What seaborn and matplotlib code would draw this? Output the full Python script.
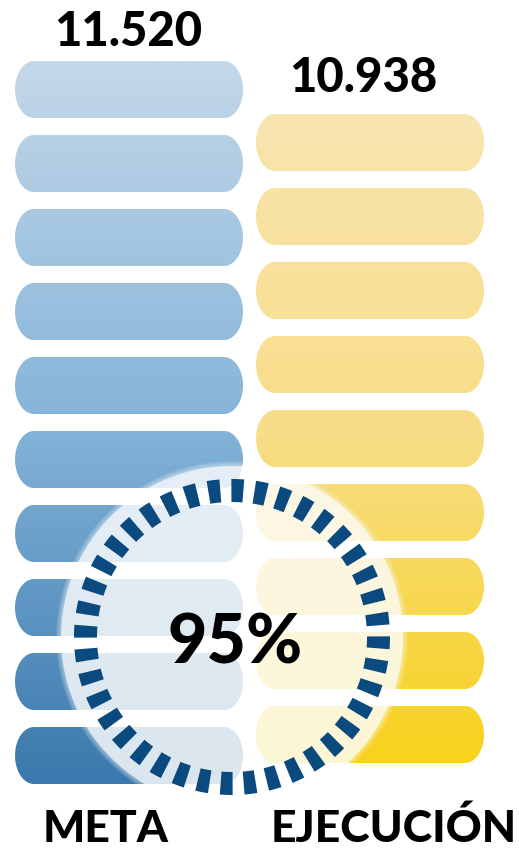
import numpy as np
import matplotlib
matplotlib.use("Agg")
import matplotlib.pyplot as plt
from matplotlib.patches import Circle, Wedge, Polygon
import seaborn as sns

# ---- data ----
categories = ["META", "EJECUCIÓN"]
values = [11520, 10938]
value_labels = ["11.520", "10.938"]
segments = [10, 9]
percent_label = "95%"
grad_colors = [["#c4d8e9", "#84b4d9", "#3a78ad"], ["#f8e5b0", "#f8dd86", "#f7d21c"]]

# ---- layout (pixels) ----
W, H = 519, 849
col_x = [15, 256]
col_top = [61, 114]
pill_w, pill_h, pitch = 228, 57, 74
round_x = 19
label_pos = [(128, 46), (363, 92)]
cat_pos = [(106, 849), (394, 849)]
cx, cy = 232, 637

sns.set_theme(style="white")
plt.rcParams["font.family"] = ["Lato", "DejaVu Sans"]

fig = plt.figure(figsize=(W / 100, H / 100), dpi=100)
ax = fig.add_axes([0, 0, 1, 1])
ax.set_xlim(0, W)
ax.set_ylim(H, 0)
ax.axis("off")


def pill_path(x0, y0, w, h, rx):
    t = np.linspace(-np.pi / 2, np.pi / 2, 40)
    ry = h / 2
    ycen = y0 + ry
    right = np.column_stack([x0 + w - rx + rx * np.cos(t), ycen + ry * np.sin(t)])
    left = np.column_stack([x0 + rx - rx * np.cos(t), ycen - ry * np.sin(t)])
    return np.vstack([right, left])


for i, cat in enumerate(categories):
    cmap = sns.blend_palette(grad_colors[i], n_colors=256, as_cmap=True)
    n = segments[i]
    top = col_top[i]
    bottom = top + (n - 1) * pitch + pill_h
    grad = np.linspace(0, 1, 256).reshape(-1, 1)
    for k in range(n):
        y0 = top + k * pitch
        pill = Polygon(pill_path(col_x[i], y0, pill_w, pill_h, round_x), closed=True,
                       facecolor="none", edgecolor="none", zorder=1)
        ax.add_patch(pill)
        im = ax.imshow(grad, cmap=cmap, aspect="auto",
                       extent=(col_x[i], col_x[i] + pill_w, bottom, top),
                       zorder=1, interpolation="bilinear")
        im.set_clip_path(pill)
    ax.text(label_pos[i][0], label_pos[i][1], value_labels[i], ha="center",
            va="baseline", fontsize=34, fontweight="black", fontstyle="normal",
            color="black", zorder=6)
    ax.text(cat_pos[i][0], cat_pos[i][1], cat, ha="center", va="bottom",
            fontsize=32, fontweight="black", fontstyle="normal",
            color="black", zorder=6)

# translucent disk with soft edge
ax.add_patch(Circle((cx, cy), 171, facecolor="white", edgecolor="none",
                    alpha=0.7, zorder=3))
for r in np.arange(172, 177, 1.0):
    ax.add_patch(Circle((cx, cy), r, facecolor="white", edgecolor="none",
                        alpha=0.1, zorder=3))

# dashed ring
n_dash = 40
step = 360 / n_dash
for k in range(n_dash):
    c = 2.1 + k * step
    ax.add_patch(Wedge((cx, cy), 158, c - step * 0.26, c + step * 0.26,
                       width=23, facecolor="#0b4a7e", edgecolor="none", zorder=4))

ax.text(235, 663, percent_label, ha="center", va="baseline", fontsize=49,
        fontweight="black", fontstyle="normal", color="black", zorder=6)

fig.savefig("out.png", dpi=100, facecolor="white")
